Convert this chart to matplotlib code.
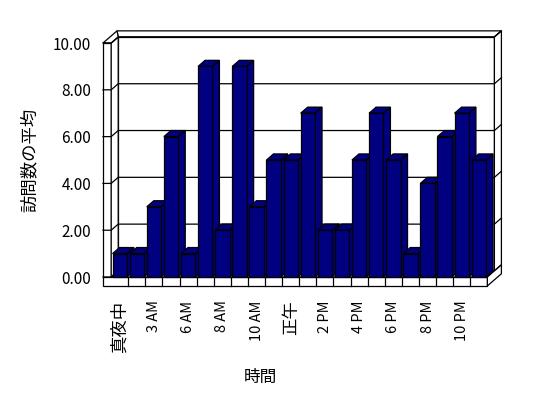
import matplotlib
matplotlib.use("Agg")
import matplotlib.pyplot as plt
from matplotlib.patches import Polygon

plt.rcParams['font.family'] = ['Noto Sans CJK JP', 'DejaVu Sans']

# data
hours = ["真夜中", "1 AM", "3 AM", "4 AM", "6 AM", "7 AM", "8 AM", "9 AM", "10 AM",
         "11 AM", "正午", "1 PM", "2 PM", "3 PM", "4 PM", "5 PM", "6 PM", "7 PM",
         "8 PM", "9 PM", "10 PM", "11 PM"]
visits = [1, 1, 3, 6, 1, 9, 2, 9, 3, 5, 5, 7, 2, 2, 5, 7, 5, 1, 4, 6, 7, 5]
yticks = [0, 2, 4, 6, 8, 10]

navy = "#000080"
lw = 0.9
dx, dy = 0.41, 0.26      # oblique depth step (data units)
wall = 0.48              # left wall thickness
floor_h = 0.38           # floor slab thickness
bar_w = 0.84

n = len(hours)
x0, x1 = -0.5, n - 0.5
top = max(yticks)

fig = plt.figure(figsize=(5.48, 3.98), dpi=100)
ax = fig.add_axes([0.1717, 0.2452, 0.7801, 0.7055])
ax.set_xlim(-1.5, n + 1.5)
ax.set_ylim(-1, 11)


def poly(pts, z=1, fc="white"):
    ax.add_patch(Polygon(pts, closed=True, facecolor=fc, edgecolor="black",
                         linewidth=lw, zorder=z, joinstyle="miter"))


# back wall: inner face, top strip, right side
poly([(x0 + dx, dy), (x1 + dx, dy), (x1 + dx, top + dy), (x0 + dx, top + dy)])
poly([(x0 - wall + 2 * dx, top + 2 * dy), (x1 + 2 * dx, top + 2 * dy),
      (x1 + dx, top + dy), (x0 + dx, top + dy)])
poly([(x1 + dx, dy), (x1 + 2 * dx, 2 * dy), (x1 + 2 * dx, top + 2 * dy),
      (x1 + dx, top + dy)])
# left wall: front face, inner face, top
poly([(x0 - wall, 0), (x0, 0), (x0, top), (x0 - wall, top)])
poly([(x0, 0), (x0 + dx, dy), (x0 + dx, top + dy), (x0, top)])
poly([(x0 - wall, top), (x0, top), (x0 + dx, top + dy),
      (x0 - wall + 2 * dx, top + 2 * dy)])

# gridlines
for v in yticks:
    ax.plot([x0 - wall, x0, x0 + dx, x1 + dx, x1 + 2 * dx],
            [v, v, v + dy, v + dy, v + 2 * dy], color="black", lw=lw, zorder=2)

# floor slab
poly([(x0, 0), (x1, 0), (x1 + dx, dy), (x0 + dx, dy)], z=2)
poly([(x0 - wall, -floor_h), (x1, -floor_h), (x1, 0), (x0 - wall, 0)], z=2)
poly([(x1, -floor_h), (x1 + 2 * dx, -floor_h + 2 * dy), (x1 + 2 * dx, 2 * dy),
      (x1, 0)], z=2)
for i in range(n - 1):
    ax.plot([i + 0.5, i + 0.5], [-floor_h, 0], color="black", lw=lw, zorder=2)

# bars, left to right so each front covers the previous side face
for i, v in enumerate(visits):
    a, b = i - bar_w / 2, i + bar_w / 2
    z = 3 + i
    poly([(b, 0), (b + dx, dy), (b + dx, v + dy), (b, v)], z=z, fc=navy)
    poly([(a, v), (b, v), (b + dx, v + dy), (a + dx, v + dy)], z=z, fc=navy)
    poly([(a, 0), (b, 0), (b, v), (a, v)], z=z, fc=navy)

# axes text
for s in ax.spines.values():
    s.set_visible(False)
ax.set_yticks(yticks)
ax.set_yticklabels(["%.2f" % v for v in yticks], fontsize=11)
ax.tick_params(axis="y", length=0, pad=2)
ax.set_xticks(range(0, n, 2))
labels = ax.set_xticklabels(hours[::2], rotation=90, fontsize=10.5)
for t in labels:
    if not t.get_text()[0].isdigit():
        t.set_fontsize(12.5)
ax.tick_params(axis="x", length=0, pad=0)

ax.set_ylabel("訪問数の平均", fontsize=12.5, va="center")
ax.yaxis.set_label_coords(-0.15, 0.5)
ax.set_xlabel("時間", fontsize=12, va="center")
ax.xaxis.set_label_coords(0.388, -0.273)

fig.savefig("out.png", dpi=100)
